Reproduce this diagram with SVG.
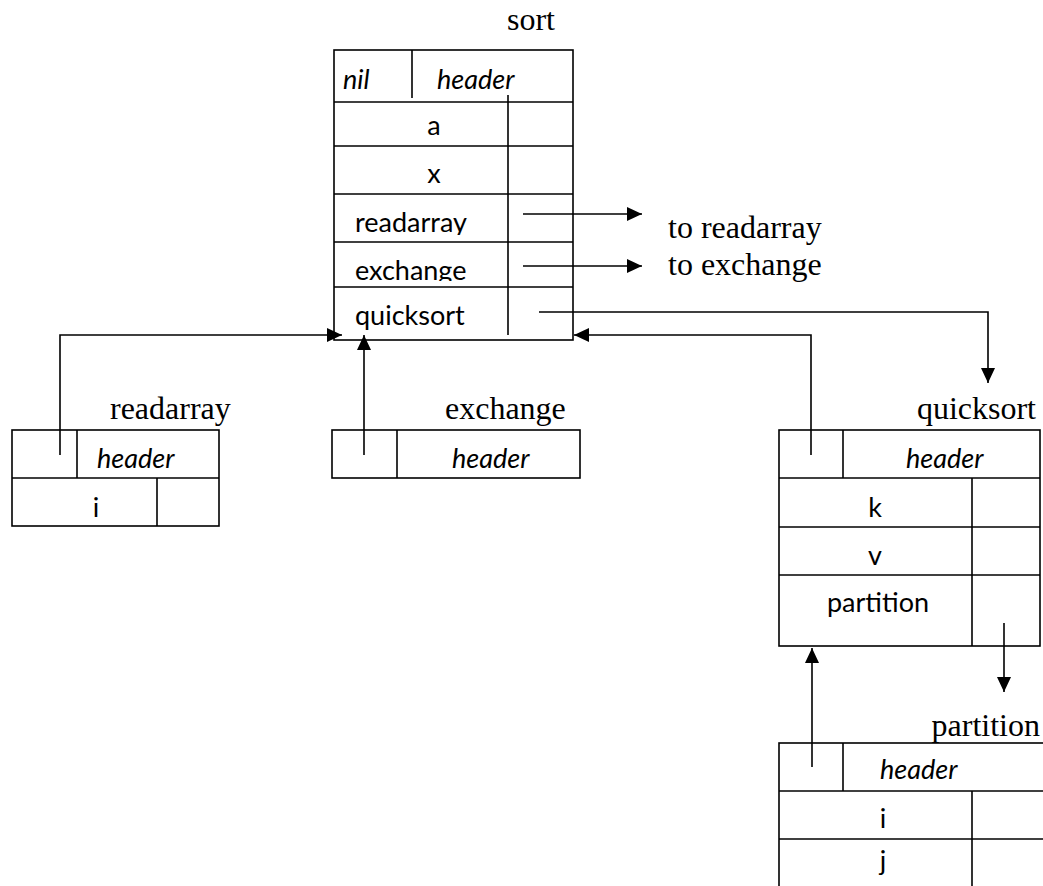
<svg xmlns="http://www.w3.org/2000/svg" width="1043" height="886" viewBox="0 0 1043 886">
<style>
.box{fill:none;stroke:#000;stroke-width:1.6}
.ln{stroke:#000;stroke-width:1.6;fill:none}
.s{font-family:Lato,"Open Sans","Liberation Sans",sans-serif;font-size:27px;fill:#000}
.i{font-style:italic}
.t{font-family:"Liberation Serif","Times New Roman",serif;font-size:32px;fill:#000}
.c{stroke:#000;stroke-width:1.6;fill:none}
</style>
<defs>
<marker id="ah" markerUnits="userSpaceOnUse" markerWidth="16" markerHeight="14" refX="15" refY="7" orient="auto">
<path d="M0,0 L15,7 L0,14 z" fill="#000"/>
</marker>
<clipPath id="clipRA"><rect x="334" y="194" width="240" height="41"/></clipPath>
<clipPath id="clipEX"><rect x="334" y="242" width="240" height="39"/></clipPath>
</defs>
<rect width="1043" height="886" fill="#fff"/>

<g id="sort">
<text class="t" x="507" y="30">sort</text>
<rect class="box" x="334" y="50" width="239" height="290"/>
<line class="ln" x1="334" y1="102" x2="573" y2="102"/>
<line class="ln" x1="334" y1="146" x2="573" y2="146"/>
<line class="ln" x1="334" y1="194" x2="573" y2="194"/>
<line class="ln" x1="334" y1="242" x2="573" y2="242"/>
<line class="ln" x1="334" y1="287" x2="573" y2="287"/>
<line class="ln" x1="412" y1="50" x2="412" y2="98"/>
<line class="ln" x1="508" y1="95" x2="508" y2="335"/>
<text class="s i" x="343" y="89">nil</text>
<text class="s i" x="437" y="89">header</text>
<text class="s" x="434" y="135" text-anchor="middle">a</text>
<text class="s" x="434" y="183" text-anchor="middle">x</text>
<text class="s" x="355" y="232" clip-path="url(#clipRA)">readarray</text>
<text class="s" x="355" y="280" clip-path="url(#clipEX)">exchange</text>
<text class="s" x="355" y="325">quicksort</text>
</g>

<g id="to-labels">
<text class="t" x="668" y="238">to readarray</text>
<text class="t" x="668" y="275">to exchange</text>
</g>

<g id="readarray">
<text class="t" x="110" y="419">readarray</text>
<rect class="box" x="12" y="430" width="207" height="96"/>
<line class="ln" x1="12" y1="478" x2="219" y2="478"/>
<line class="ln" x1="77" y1="430" x2="77" y2="478"/>
<line class="ln" x1="157" y1="478" x2="157" y2="526"/>
<text class="s i" x="97" y="468">header</text>
<text class="s" x="96" y="517" text-anchor="middle">i</text>
</g>

<g id="exchange">
<text class="t" x="445" y="419">exchange</text>
<rect class="box" x="332" y="430" width="248" height="48"/>
<line class="ln" x1="397" y1="430" x2="397" y2="478"/>
<text class="s i" x="452" y="468">header</text>
</g>

<g id="quicksort">
<text class="t" x="1036" y="419" text-anchor="end">quicksort</text>
<rect class="box" x="779" y="430" width="261" height="216"/>
<line class="ln" x1="779" y1="478" x2="1040" y2="478"/>
<line class="ln" x1="779" y1="527" x2="1040" y2="527"/>
<line class="ln" x1="779" y1="575" x2="1040" y2="575"/>
<line class="ln" x1="843" y1="430" x2="843" y2="478"/>
<line class="ln" x1="972" y1="478" x2="972" y2="646"/>
<text class="s i" x="906" y="468">header</text>
<text class="s" x="875" y="517" text-anchor="middle">k</text>
<text class="s" x="875" y="565" text-anchor="middle">v</text>
<text class="s" x="878" y="612" text-anchor="middle">partition</text>
</g>

<g id="partition">
<text class="t" x="1040" y="736" text-anchor="end">partition</text>
<rect class="box" x="779" y="743" width="300" height="200"/>
<line class="ln" x1="779" y1="791" x2="1043" y2="791"/>
<line class="ln" x1="779" y1="839" x2="1043" y2="839"/>
<line class="ln" x1="843" y1="743" x2="843" y2="791"/>
<line class="ln" x1="972" y1="791" x2="972" y2="886"/>
<text class="s i" x="880" y="779">header</text>
<text class="s" x="883" y="828" text-anchor="middle">i</text>
<text class="s" x="883" y="870" text-anchor="middle">j</text>
</g>

<g id="connectors">
<path class="c" d="M523,214 H642" marker-end="url(#ah)"/>
<path class="c" d="M523,266 H642" marker-end="url(#ah)"/>
<path class="c" d="M539,312 H988 V383" marker-end="url(#ah)"/>
<path class="c" d="M60,455 V335 H342" marker-end="url(#ah)"/>
<path class="c" d="M364,455 V335" marker-end="url(#ah)"/>
<path class="c" d="M811,455 V335 H574" marker-end="url(#ah)"/>
<path class="c" d="M1004,623 V692" marker-end="url(#ah)"/>
<path class="c" d="M812,767 V648" marker-end="url(#ah)"/>
</g>
</svg>
